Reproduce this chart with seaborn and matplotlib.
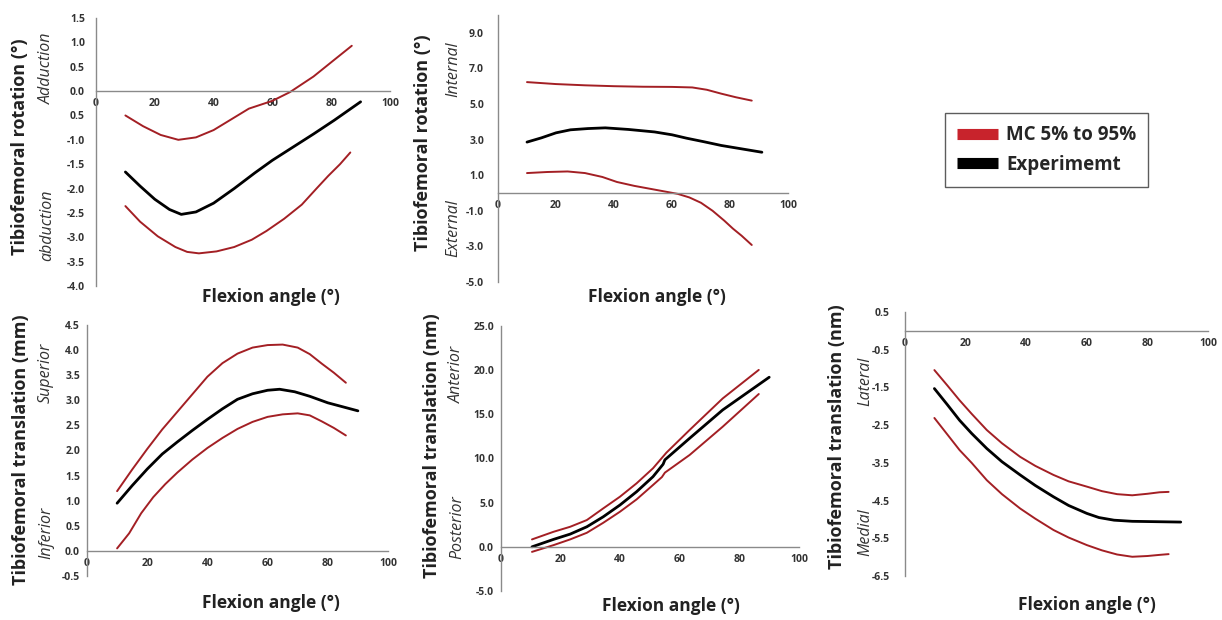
import matplotlib
matplotlib.use("Agg")
import matplotlib.pyplot as plt
from matplotlib.lines import Line2D
import seaborn as sns

sns.set_theme(style="white")
plt.rcParams['font.family'] = ['Open Sans', 'DejaVu Sans']

W, H = 1222, 620
RED = "#a31f24"
LEG_RED = "#c8232c"
SPINE = "#8a8a8a"
TXT = "#333333"

flex_ticks = [0, 20, 40, 60, 80, 100]
flex_labels = ["0", "20", "40", "60", "80", "100"]

# Panel 1 - adduction / abduction rotation
aa_hi_x = [10, 16, 22, 28, 34, 40, 46, 52, 60, 66, 74, 81, 87]
aa_hi_y = [-0.5, -0.72, -0.9, -1.0, -0.95, -0.8, -0.58, -0.36, -0.2, -0.02, 0.3, 0.64, 0.93]
aa_ex_x = [10, 15, 20, 25, 29, 34, 40, 47, 54, 60, 67, 74, 81, 90]
aa_ex_y = [-1.66, -1.95, -2.22, -2.43, -2.53, -2.48, -2.3, -2.0, -1.68, -1.42, -1.15, -0.88, -0.6, -0.22]
aa_lo_x = [10, 15, 21, 27, 31, 35, 41, 47, 53, 58, 64, 70, 75, 79, 83, 86.5]
aa_lo_y = [-2.36, -2.68, -2.98, -3.2, -3.3, -3.33, -3.29, -3.2, -3.05, -2.87, -2.62, -2.33, -2.0, -1.74, -1.5, -1.26]
aa_ticks = [1.5, 1.0, 0.5, 0.0, -0.5, -1.0, -1.5, -2.0, -2.5, -3.0, -3.5, -4.0]
aa_labels = ["1.5", "1.0", "0.5", "0.0", "0.5", "-1.0", "-1.5", "-2.0", "-2.5", "-3.0", "-3.5", "-4.0"]

# Panel 2 - internal / external rotation
ie_hi_x = [10, 20, 30, 40, 50, 60, 67, 72, 77, 82, 87.5]
ie_hi_y = [6.23, 6.12, 6.05, 6.0, 5.97, 5.96, 5.93, 5.8, 5.58, 5.38, 5.19]
ie_ex_x = [10, 15, 20, 25, 31, 37, 45, 54, 60, 65, 71, 77, 84, 91]
ie_ex_y = [2.86, 3.1, 3.38, 3.55, 3.62, 3.66, 3.57, 3.43, 3.27, 3.08, 2.88, 2.67, 2.48, 2.29]
ie_lo_x = [10, 17, 24, 30, 36, 41, 47, 52, 57, 62, 66, 70, 74, 78, 81, 84, 87.5]
ie_lo_y = [1.12, 1.18, 1.21, 1.12, 0.9, 0.62, 0.4, 0.25, 0.1, -0.05, -0.25, -0.55, -1.0, -1.55, -2.0, -2.4, -2.92]
ie_ticks = [9, 7, 5, 3, 1, -1, -3, -5]
ie_labels = ["9.0", "7.0", "5.0", "3.0", "1.0", "-1.0", "-3.0", "-5.0"]

# Panel 3 - superior / inferior translation
si_hi_x = [10, 15, 20, 25, 30, 35, 40, 45, 50, 55, 60, 65, 70, 74, 78, 82, 86]
si_hi_y = [1.19, 1.62, 2.03, 2.42, 2.77, 3.12, 3.47, 3.74, 3.93, 4.05, 4.1, 4.11, 4.05, 3.92, 3.73, 3.55, 3.35]
si_ex_x = [10, 15, 20, 25, 30, 35, 40, 45, 50, 55, 60, 64, 69, 74, 80, 85, 90]
si_ex_y = [0.95, 1.3, 1.63, 1.93, 2.17, 2.4, 2.62, 2.83, 3.02, 3.13, 3.2, 3.22, 3.17, 3.08, 2.95, 2.87, 2.79]
si_lo_x = [10, 14, 18, 22, 26, 30, 35, 40, 45, 50, 55, 60, 65, 70, 74, 78, 82, 86]
si_lo_y = [0.05, 0.35, 0.75, 1.07, 1.33, 1.56, 1.82, 2.05, 2.25, 2.43, 2.57, 2.67, 2.72, 2.74, 2.7, 2.58, 2.45, 2.3]
si_ticks = [4.5, 4.0, 3.5, 3.0, 2.5, 2.0, 1.5, 1.0, 0.5, 0.0, -0.5]
si_labels = ["4.5", "4.0", "3.5", "3.0", "2.5", "2.0", "1.5", "1.0", "0.5", "0.0", "-0.5"]

# Panel 4 - anterior / posterior translation
ap_hi_x = [10.4, 17.6, 23.2, 28.8, 34.3, 39.9, 45.5, 51, 55.5, 63.3, 74.4, 86.5]
ap_hi_y = [0.84, 1.7, 2.27, 3.03, 4.35, 5.67, 7.19, 8.89, 10.66, 13.23, 16.8, 20.03]
ap_ex_x = [10.4, 17.6, 23.2, 28.8, 34.3, 39.9, 45.5, 51, 54.4, 55, 63.3, 74.4, 90]
ap_ex_y = [0.0, 0.84, 1.44, 2.27, 3.4, 4.73, 6.24, 7.94, 9.35, 9.85, 12.29, 15.5, 19.2]
ap_lo_x = [10.4, 17.6, 23.2, 28.8, 34.3, 39.9, 45.5, 51, 54, 55, 63.3, 74.4, 86.5]
ap_lo_y = [-0.57, 0.19, 0.84, 1.59, 2.72, 3.97, 5.37, 7.0, 7.9, 8.4, 10.4, 13.6, 17.3]
ap_ticks = [25, 20, 15, 10, 5, 0, -5]
ap_labels = ["25.0", "20.0", "15.0", "10.0", "5.0", "0.0", "-5.0"]

# Panel 5 - lateral / medial translation
ml_hi_x = [9.7, 14, 18, 22, 27, 32, 38, 43, 49, 54, 60, 65, 70, 75, 80, 84, 87]
ml_hi_y = [-1.04, -1.45, -1.84, -2.2, -2.63, -2.98, -3.34, -3.58, -3.82, -3.99, -4.13, -4.25, -4.33, -4.36, -4.32, -4.28, -4.27]
ml_ex_x = [9.7, 14, 18, 22, 27, 32, 38, 43, 49, 54, 60, 64, 69, 75, 83, 91]
ml_ex_y = [-1.53, -1.96, -2.37, -2.72, -3.12, -3.47, -3.82, -4.1, -4.4, -4.63, -4.84, -4.95, -5.02, -5.05, -5.06, -5.07]
ml_lo_x = [9.7, 14, 18, 22, 27, 32, 38, 43, 49, 54, 60, 65, 70, 75, 80, 84, 87]
ml_lo_y = [-2.31, -2.75, -3.16, -3.5, -3.96, -4.33, -4.71, -4.98, -5.28, -5.48, -5.68, -5.82, -5.93, -5.99, -5.97, -5.94, -5.92]
ml_ticks = [0.5, -0.5, -1.5, -2.5, -3.5, -4.5, -5.5, -6.5]
ml_labels = ["0.5", "-0.5", "-1.5", "-2.5", "-3.5", "-4.5", "-5.5", "-6.5"]

panels = [
    dict(box=(96, 390, 18, 286), ylim=(-4.0, 1.5), ticks=aa_ticks, labels=aa_labels, pad=8,
         hi=(aa_hi_x, aa_hi_y), ex=(aa_ex_x, aa_ex_y), lo=(aa_lo_x, aa_lo_y),
         ylabel="Tibiofemoral rotation (°)", ylab_pos=(20, 147),
         up=("Adduction", 47, 68), down=("abduction", 47, 225), xlab_pos=(271, 297)),
    dict(box=(498, 788, 15, 282), ylim=(-5, 10), ticks=ie_ticks, labels=ie_labels, pad=10,
         hi=(ie_hi_x, ie_hi_y), ex=(ie_ex_x, ie_ex_y), lo=(ie_lo_x, ie_lo_y),
         ylabel="Tibiofemoral rotation (°)", ylab_pos=(423, 143),
         up=("Internal", 453, 69), down=("External", 453, 228), xlab_pos=(657, 297)),
    dict(box=(87, 388, 325, 576), ylim=(-0.5, 4.5), ticks=si_ticks, labels=si_labels, pad=5,
         hi=(si_hi_x, si_hi_y), ex=(si_ex_x, si_ex_y), lo=(si_lo_x, si_lo_y),
         ylabel="Tibiofemoral translation (mm)", ylab_pos=(21, 450),
         up=("Superior", 46, 373), down=("Inferior", 46, 533), xlab_pos=(271, 603)),
    dict(box=(501, 799, 326, 591), ylim=(-5, 25), ticks=ap_ticks, labels=ap_labels, pad=5,
         hi=(ap_hi_x, ap_hi_y), ex=(ap_ex_x, ap_ex_y), lo=(ap_lo_x, ap_lo_y),
         ylabel="Tibiofemoral translation (nm)", ylab_pos=(432, 446),
         up=("Anterior", 457, 374), down=("Posterior", 457, 527), xlab_pos=(671, 606)),
    dict(box=(905, 1208, 312, 576), ylim=(-6.5, 0.5), ticks=ml_ticks, labels=ml_labels, pad=11,
         hi=(ml_hi_x, ml_hi_y), ex=(ml_ex_x, ml_ex_y), lo=(ml_lo_x, ml_lo_y),
         ylabel="Tibiofemoral translation (nm)", ylab_pos=(837, 437),
         up=("Lateral", 865, 381), down=("Medial", 865, 532), xlab_pos=(1087, 605)),
]

fig = plt.figure(figsize=(W / 100, H / 100), dpi=100)

for p in panels:
    x0, x1, yt, yb = p["box"]
    ax = fig.add_axes([x0 / W, 1 - yb / H, (x1 - x0) / W, (yb - yt) / H])
    ax.set_facecolor("none")
    sns.lineplot(x=p["hi"][0], y=p["hi"][1], ax=ax, color=RED, linewidth=1.4, sort=False, estimator=None)
    sns.lineplot(x=p["lo"][0], y=p["lo"][1], ax=ax, color=RED, linewidth=1.4, sort=False, estimator=None)
    sns.lineplot(x=p["ex"][0], y=p["ex"][1], ax=ax, color="black", linewidth=2.0, sort=False, estimator=None)
    ax.set_xlim(0, 100)
    ax.set_ylim(*p["ylim"])
    ax.spines["top"].set_visible(False)
    ax.spines["right"].set_visible(False)
    ax.spines["bottom"].set_position(("data", 0))
    for s in ("left", "bottom"):
        ax.spines[s].set_color(SPINE)
        ax.spines[s].set_linewidth(1.0)
    ax.set_xticks(flex_ticks)
    ax.set_xticklabels(flex_labels)
    ax.set_yticks(p["ticks"])
    ax.set_yticklabels(p["labels"])
    ax.tick_params(axis="x", length=0, pad=5, labelsize=7.5, labelcolor=TXT)
    ax.tick_params(axis="y", length=0, pad=p["pad"], labelsize=7.5, labelcolor=TXT)
    for lab in ax.get_xticklabels() + ax.get_yticklabels():
        lab.set_fontweight("bold")
    ax.set_xlabel("")
    ax.set_ylabel("")
    fig.text(p["ylab_pos"][0] / W, 1 - p["ylab_pos"][1] / H, p["ylabel"], rotation=90,
             ha="center", va="center", fontsize=13, fontweight="bold", color="#222222")
    for txt, tx, ty in (p["up"], p["down"]):
        fig.text(tx / W, 1 - ty / H, txt, rotation=90, ha="center", va="center",
                 fontsize=11.5, fontstyle="italic", color="#333333")
    fig.text(p["xlab_pos"][0] / W, 1 - p["xlab_pos"][1] / H, "Flexion angle (°)",
             ha="center", va="center", fontsize=12.5, fontweight="bold", color="#222222")

handles = [Line2D([0], [0], color=LEG_RED, linewidth=8, solid_capstyle="butt"),
           Line2D([0], [0], color="black", linewidth=8, solid_capstyle="butt")]
leg = fig.legend(handles, ["MC 5% to 95%", "Experimemt"], loc="upper left",
                 bbox_to_anchor=(945 / W, 1 - 113 / H), frameon=True, fancybox=False,
                 handlelength=2.2, handletextpad=0.4, borderpad=0.65, labelspacing=0.5,
                 borderaxespad=0, prop=dict(size=13.5, weight="bold"))
leg.get_frame().set_edgecolor("#333333")
leg.get_frame().set_linewidth(1.0)

fig.savefig("out.png", dpi=100)
